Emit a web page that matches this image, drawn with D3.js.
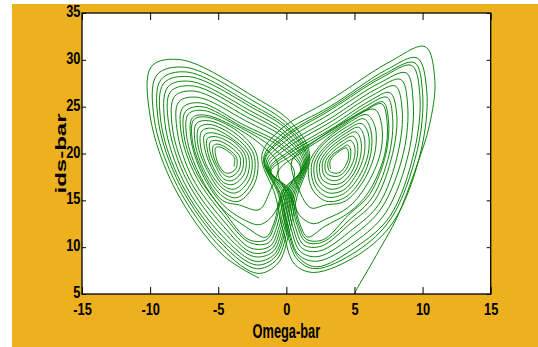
<!DOCTYPE html>
<html>
<head>
<meta charset="utf-8">
<script src="https://cdn.jsdelivr.net/npm/d3@7"></script>
<style>
  html, body { margin: 0; padding: 0; background: #ffffff; }
  svg { display: block; }
  text { font-family: "Liberation Sans", Arial, Helvetica, sans-serif; font-weight: bold; fill: #000; }
</style>
</head>
<body>
<svg id="chart" width="538" height="347"></svg>
<script>
// Axis ticks and titles
const xTicks = [-15, -10, -5, 0, 5, 10, 15];
const xTickLabels = ["-15", "-10", "-5", "0", "5", "10", "15"];
const yTicks = [5, 10, 15, 20, 25, 30, 35];
const yTickLabels = ["5", "10", "15", "20", "25", "30", "35"];
const xTitle = "Omega-bar";
const yTitle = "ids-bar";

// Phase trajectory, [omega-bar, ids-bar] pairs.
// Start of the run: rises from (5, 5) and makes the first, widest right-hand loop.
const startPath = [
  [5.0, 5.0], [5.2, 5.6], [5.9, 7.35], [6.9, 9.9], [8.1, 13.1], [9.6, 18.8], [10.5, 23.0],
  [10.9, 27.8], [10.2, 31.4], [7.6, 29.8], [3.2, 25.7], [-0.4, 22.6], [-1.8, 19.8],
  [-0.8, 15.5], [-0.2, 11.5], [0.6, 8.2]
];

// Loops around the right-hand focus, outer to inner
const rightWing = [
  [[2.0, 7.3], [5.3, 9.2], [7.9, 12.8], [9.9, 20.4], [10.3, 26.8], [9.6, 30.2], [7.3, 28.9], [3.3, 25.1], [-0.3, 22.1], [-1.67, 19.48], [-0.58, 15.59], [0.02, 11.72], [0.78, 8.74]],
  [[2.1, 7.7], [5.2, 9.6], [7.7, 13.1], [9.6, 20.3], [10.0, 26.4], [9.4, 29.7], [7.1, 28.4], [3.3, 24.9], [-0.2, 21.8], [-1.62, 19.33], [-0.49, 15.63], [0.11, 11.81], [0.86, 8.98]],
  [[2.2, 7.9], [5.1, 10.0], [7.6, 13.3], [9.4, 20.3], [9.8, 26.2], [9.2, 29.4], [7.0, 28.1], [3.3, 24.7], [-0.18, 21.6], [-1.58, 19.22], [-0.42, 15.66], [0.18, 11.88], [0.92, 9.16]],
  [[2.25, 8.5], [5.05, 10.6], [7.3, 13.7], [9.0, 20.2], [9.3, 25.7], [8.8, 28.6], [6.8, 27.5], [3.3, 24.3], [-0.09, 21.3], [-1.49, 19.0], [-0.27, 15.72], [0.33, 12.03], [1.04, 9.52]],
  [[2.35, 9.0], [4.95, 11.3], [7.0, 14.2], [8.6, 20.1], [8.9, 25.2], [8.4, 27.9], [6.5, 26.8], [3.4, 23.9], [0.0, 20.9], [-1.41, 18.8], [-0.13, 15.78], [0.47, 12.17], [1.16, 9.88]],
  [[2.45, 9.6], [4.85, 11.9], [6.8, 14.6], [8.2, 20.1], [8.5, 24.7], [8.0, 27.2], [6.3, 26.2], [3.4, 23.5], [0.08, 20.6], [-1.32, 18.58], [0.02, 15.84], [0.62, 12.32], [1.28, 10.24]],
  [[2.55, 10.1], [4.75, 12.6], [6.5, 15.0], [7.8, 20.0], [8.1, 24.2], [7.6, 26.5], [6.1, 25.6], [3.45, 23.1], [0.16, 20.2], [-1.24, 18.36], [0.16, 15.9], [0.76, 12.46], [1.4, 10.6]],
  [[2.6, 10.5], [4.7, 13.0], [6.3, 15.3], [7.55, 19.9], [7.8, 23.85], [7.4, 26.0], [5.9, 25.1], [3.5, 22.8], [0.22, 20.0], [-1.18, 18.22], [0.26, 15.94], [0.86, 12.56], [1.48, 10.84]],
  [[2.7, 10.8], [4.6, 13.5], [6.1, 15.6], [7.3, 19.9], [7.5, 23.5], [7.1, 25.5], [5.8, 24.7], [3.5, 22.6], [0.27, 19.7], [-1.13, 18.07], [0.35, 15.98], [0.95, 12.65], [1.56, 11.08]],
  [[2.8, 12.2], [4.6, 13.7], [6.0, 15.8], [7.2, 19.8], [7.4, 23.3], [7.0, 25.3], [5.7, 24.5], [3.5, 22.4], [1.0, 20.0], [-0.6, 18.0], [0.3, 15.3], [1.1, 13.2], [2.0, 12.5]],
  [[2.9, 13.0], [4.5, 14.2], [5.8, 16.4], [6.9, 20.0], [7.0, 23.0], [6.5, 24.7], [4.9, 23.9], [2.0, 21.2], [0.4, 19.2], [0.9, 16.2], [1.8, 14.2]],
  [[2.85, 14.5], [4.3, 14.9], [5.65, 17.05], [6.5, 20.1], [6.5, 22.9], [5.9, 24.15], [4.6, 23.3], [2.5, 20.9], [1.65, 18.8], [1.9, 16.2]],
  [[2.95, 14.9], [4.3, 15.3], [5.5, 17.25], [6.2, 20.0], [6.2, 22.5], [5.7, 23.7], [4.5, 22.9], [2.6, 20.8], [1.85, 18.8], [2.1, 16.5]],
  [[3.0, 15.35], [4.2, 15.7], [5.3, 17.45], [6.0, 19.9], [6.0, 22.2], [5.5, 23.2], [4.4, 22.5], [2.75, 20.6], [2.05, 18.85], [2.25, 16.75]],
  [[3.1, 15.8], [4.2, 16.1], [5.1, 17.65], [5.7, 19.8], [5.7, 21.85], [5.3, 22.8], [4.35, 22.15], [2.85, 20.45], [2.25, 18.9], [2.45, 17.0]],
  [[3.2, 16.2], [4.1, 16.5], [4.95, 17.85], [5.45, 19.75], [5.45, 21.5], [5.1, 22.3], [4.3, 21.8], [3.0, 20.3], [2.45, 18.9], [2.6, 17.3]],
  [[3.3, 16.7], [4.1, 16.9], [4.8, 18.05], [5.2, 19.65], [5.2, 21.15], [4.9, 21.85], [4.2, 21.4], [3.1, 20.1], [2.65, 19.0], [2.8, 17.6]],
  [[3.4, 17.1], [4.0, 17.3], [4.6, 18.25], [5.0, 19.6], [5.0, 20.8], [4.7, 21.4], [4.15, 21.0], [3.25, 19.95], [2.85, 19.0], [2.95, 17.9]],
  [[3.5, 17.55], [4.0, 17.7], [4.45, 18.45], [4.7, 19.5], [4.7, 20.5], [4.5, 20.9], [4.1, 20.6], [3.35, 19.8], [3.05, 19.05], [3.15, 18.15]],
  [[3.55, 17.9], [3.95, 18.0], [4.3, 18.6], [4.55, 19.45], [4.55, 20.2], [4.4, 20.6], [4.0, 20.35], [3.45, 19.7], [3.2, 19.1], [3.25, 18.35]]
];

// Loops around the left-hand focus, outer to inner
const leftWing = [
  [[-2.0, 6.7], [-4.7, 9.2], [-8.2, 16.3], [-10.0, 24.0], [-9.9, 29.3], [-7.7, 30.0], [-2.2, 25.9], [0.3, 23.4], [1.7, 20.0], [0.8, 15.5], [0.2, 11.5], [-0.6, 8.3]],
  [[-2.1, 7.2], [-4.7, 9.8], [-8.0, 16.5], [-9.7, 23.7], [-9.5, 28.4], [-7.4, 29.2], [-2.3, 25.5], [0.2, 23.0], [1.62, 19.8], [0.66, 15.56], [0.06, 11.64], [-0.72, 8.66]],
  [[-2.2, 7.7], [-4.7, 10.3], [-7.8, 16.6], [-9.4, 23.5], [-9.2, 27.9], [-7.3, 28.7], [-2.5, 25.2], [0.15, 22.7], [1.55, 19.6], [0.54, 15.61], [-0.06, 11.76], [-0.82, 8.96]],
  [[-2.2, 8.1], [-4.7, 10.7], [-7.7, 16.8], [-9.2, 23.3], [-9.0, 27.5], [-7.1, 28.2], [-2.5, 24.9], [0.1, 22.5], [1.49, 19.46], [0.44, 15.65], [-0.16, 11.86], [-0.9, 9.2]],
  [[-2.3, 8.5], [-4.7, 11.2], [-7.5, 16.9], [-8.9, 23.1], [-8.7, 27.1], [-7.0, 27.7], [-2.7, 24.6], [0.0, 22.2], [1.42, 19.28], [0.32, 15.7], [-0.28, 11.98], [-1.0, 9.5]],
  [[-2.4, 9.0], [-4.65, 11.7], [-7.3, 17.1], [-8.6, 22.8], [-8.5, 26.6], [-6.8, 27.2], [-2.8, 24.3], [-0.05, 21.9], [1.35, 19.1], [0.2, 15.75], [-0.4, 12.1], [-1.1, 9.8]],
  [[-2.5, 9.4], [-4.6, 12.2], [-7.1, 17.2], [-8.35, 22.6], [-8.2, 26.1], [-6.7, 26.65], [-2.9, 23.9], [-0.1, 21.6], [1.28, 18.92], [0.08, 15.8], [-0.52, 12.22], [-1.2, 10.1]],
  [[-2.6, 9.9], [-4.6, 12.8], [-6.9, 17.4], [-8.0, 22.3], [-7.9, 25.5], [-6.5, 26.0], [-3.0, 23.5], [-0.2, 21.2], [1.2, 18.7], [-0.06, 15.86], [-0.66, 12.36], [-1.32, 10.46]],
  [[-2.7, 10.5], [-4.6, 13.4], [-6.65, 17.6], [-7.7, 22.0], [-7.6, 24.9], [-6.3, 25.4], [-3.2, 23.1], [-0.3, 20.9], [1.11, 18.49], [-0.21, 15.92], [-0.81, 12.5], [-1.44, 10.82]],
  [[-2.75, 10.8], [-4.6, 13.85], [-6.5, 17.7], [-7.5, 21.8], [-7.4, 24.5], [-6.2, 25.0], [-3.3, 22.9], [-0.35, 20.6], [1.06, 18.34], [-0.3, 15.96], [-0.9, 12.6], [-1.52, 11.06]],
  [[-3.0, 12.2], [-4.7, 14.1], [-6.4, 17.8], [-7.3, 21.7], [-7.2, 24.2], [-6.1, 24.6], [-3.4, 22.8], [-1.0, 20.6], [0.6, 18.0], [-0.3, 15.3], [-1.1, 13.2], [-2.0, 12.4]],
  [[-3.2, 13.0], [-4.7, 14.6], [-6.2, 17.9], [-7.0, 21.5], [-6.9, 23.8], [-5.95, 24.1], [-3.5, 22.6], [-1.6, 20.6], [-0.6, 18.8], [-1.2, 16.0], [-2.0, 14.0]],
  [[-3.45, 14.5], [-4.7, 15.0], [-6.1, 18.0], [-6.9, 21.4], [-6.8, 23.6], [-5.9, 23.9], [-3.6, 22.4], [-2.2, 20.0], [-2.3, 16.9]],
  [[-3.5, 14.9], [-4.65, 15.4], [-6.0, 18.1], [-6.7, 21.2], [-6.6, 23.2], [-5.7, 23.5], [-3.7, 22.1], [-2.4, 19.9], [-2.5, 17.1]],
  [[-3.6, 15.3], [-4.65, 15.8], [-5.8, 18.2], [-6.5, 21.0], [-6.4, 22.8], [-5.6, 23.1], [-3.8, 21.8], [-2.6, 19.8], [-2.7, 17.3]],
  [[-3.7, 15.8], [-4.6, 16.2], [-5.7, 18.3], [-6.3, 20.8], [-6.2, 22.4], [-5.5, 22.7], [-3.9, 21.5], [-2.8, 19.8], [-2.9, 17.5]],
  [[-3.8, 16.2], [-4.6, 16.55], [-5.5, 18.5], [-6.0, 20.6], [-6.0, 22.0], [-5.4, 22.2], [-3.9, 21.3], [-3.0, 19.7], [-3.1, 17.8]],
  [[-3.9, 16.7], [-4.6, 16.9], [-5.4, 18.6], [-5.8, 20.4], [-5.8, 21.6], [-5.2, 21.8], [-4.0, 21.0], [-3.2, 19.7], [-3.3, 18.0]],
  [[-4.0, 17.1], [-4.6, 17.3], [-5.2, 18.7], [-5.6, 20.2], [-5.6, 21.2], [-5.1, 21.4], [-4.1, 20.7], [-3.4, 19.6], [-3.5, 18.2]],
  [[-4.1, 17.5], [-4.55, 17.7], [-5.1, 18.8], [-5.4, 20.05], [-5.35, 20.85], [-5.0, 21.0], [-4.2, 20.4], [-3.65, 19.55], [-3.7, 18.4]],
  [[-4.2, 17.9], [-4.55, 18.0], [-5.0, 18.9], [-5.2, 19.9], [-5.2, 20.6], [-4.9, 20.7], [-4.25, 20.2], [-3.8, 19.5], [-3.85, 18.6]]
];

// ---- layout ----
const W = 538, H = 347;
const plot = { left: 82, right: 490.7, top: 13, bottom: 294 };

const svg = d3.select("#chart");

// figure background
svg.append("rect")
  .attr("x", 12).attr("y", 4)
  .attr("width", W - 12).attr("height", H - 4)
  .attr("fill", "#EDB120");

const x = d3.scaleLinear().domain([-15, 15]).range([plot.left, plot.right]);
const y = d3.scaleLinear().domain([5, 35]).range([plot.bottom, plot.top]);

// axes background
svg.append("rect")
  .attr("x", x(-15)).attr("y", y(35))
  .attr("width", x(15) - x(-15)).attr("height", y(5) - y(35))
  .attr("fill", "#ffffff");

svg.append("clipPath").attr("id", "plotClip")
  .append("rect")
  .attr("x", x(-15)).attr("y", y(35))
  .attr("width", x(15) - x(-15)).attr("height", y(5) - y(35));

// trajectory
const line = d3.line()
  .x(d => x(d[0]))
  .y(d => y(d[1]))
  .curve(d3.curveCatmullRom.alpha(0.5));

const traces = [
  startPath.concat(rightWing.flat()),
  leftWing.flat()
];

svg.append("g")
  .attr("clip-path", "url(#plotClip)")
  .selectAll("path")
  .data(traces)
  .join("path")
  .attr("d", line)
  .attr("fill", "none")
  .attr("stroke", "#008000")
  .attr("stroke-width", 0.95)
  .attr("stroke-linejoin", "round");

// axes
const tickFont = 16, tickSquash = 0.8;

const gx = svg.append("g")
  .attr("transform", `translate(0,${plot.bottom})`)
  .call(d3.axisBottom(x).tickValues(xTicks).tickSize(-7).tickSizeOuter(0).tickPadding(10)
    .tickFormat((d, i) => xTickLabels[i]));

const gy = svg.append("g")
  .attr("transform", `translate(${plot.left},0)`)
  .call(d3.axisLeft(y).tickValues(yTicks).tickSize(-4).tickSizeOuter(0).tickPadding(2)
    .tickFormat((d, i) => yTickLabels[i]));

const gt = svg.append("g")
  .attr("transform", `translate(0,${plot.top})`)
  .call(d3.axisTop(x).tickValues(xTicks).tickSize(-7).tickSizeOuter(0).tickFormat(""));

const gr = svg.append("g")
  .attr("transform", `translate(${plot.right},0)`)
  .call(d3.axisRight(y).tickValues(yTicks).tickSize(-4).tickSizeOuter(0).tickFormat(""));

[gx, gy, gt, gr].forEach(g => {
  g.select(".domain").remove();
  g.selectAll(".tick line").attr("stroke", "#000").attr("stroke-width", 1);
  g.selectAll(".tick text")
    .attr("fill", "#000")
    .style("font-size", tickFont + "px")
    .style("font-weight", "bold")
    .style("font-family", "'Liberation Sans', Arial, sans-serif")
    .attr("transform", `scale(${tickSquash},1)`);
});
gy.selectAll(".tick text").attr("dy", "0.22em");

// axes box
svg.append("rect")
  .attr("x", x(-15)).attr("y", y(35))
  .attr("width", x(15) - x(-15)).attr("height", y(5) - y(35))
  .attr("fill", "none")
  .attr("stroke", "#000")
  .attr("stroke-width", 1.3);

// axis titles
svg.append("text")
  .attr("text-anchor", "middle")
  .attr("transform", `translate(${(plot.left + plot.right) / 2},338) scale(0.61,1)`)
  .style("font-size", "21px")
  .text(xTitle);

svg.append("text")
  .attr("text-anchor", "middle")
  .attr("transform", `translate(66,${(plot.top + plot.bottom) / 2}) scale(0.6,1) rotate(-90)`)
  .style("font-size", "24px")
  .text(yTitle);
</script>
</body>
</html>
